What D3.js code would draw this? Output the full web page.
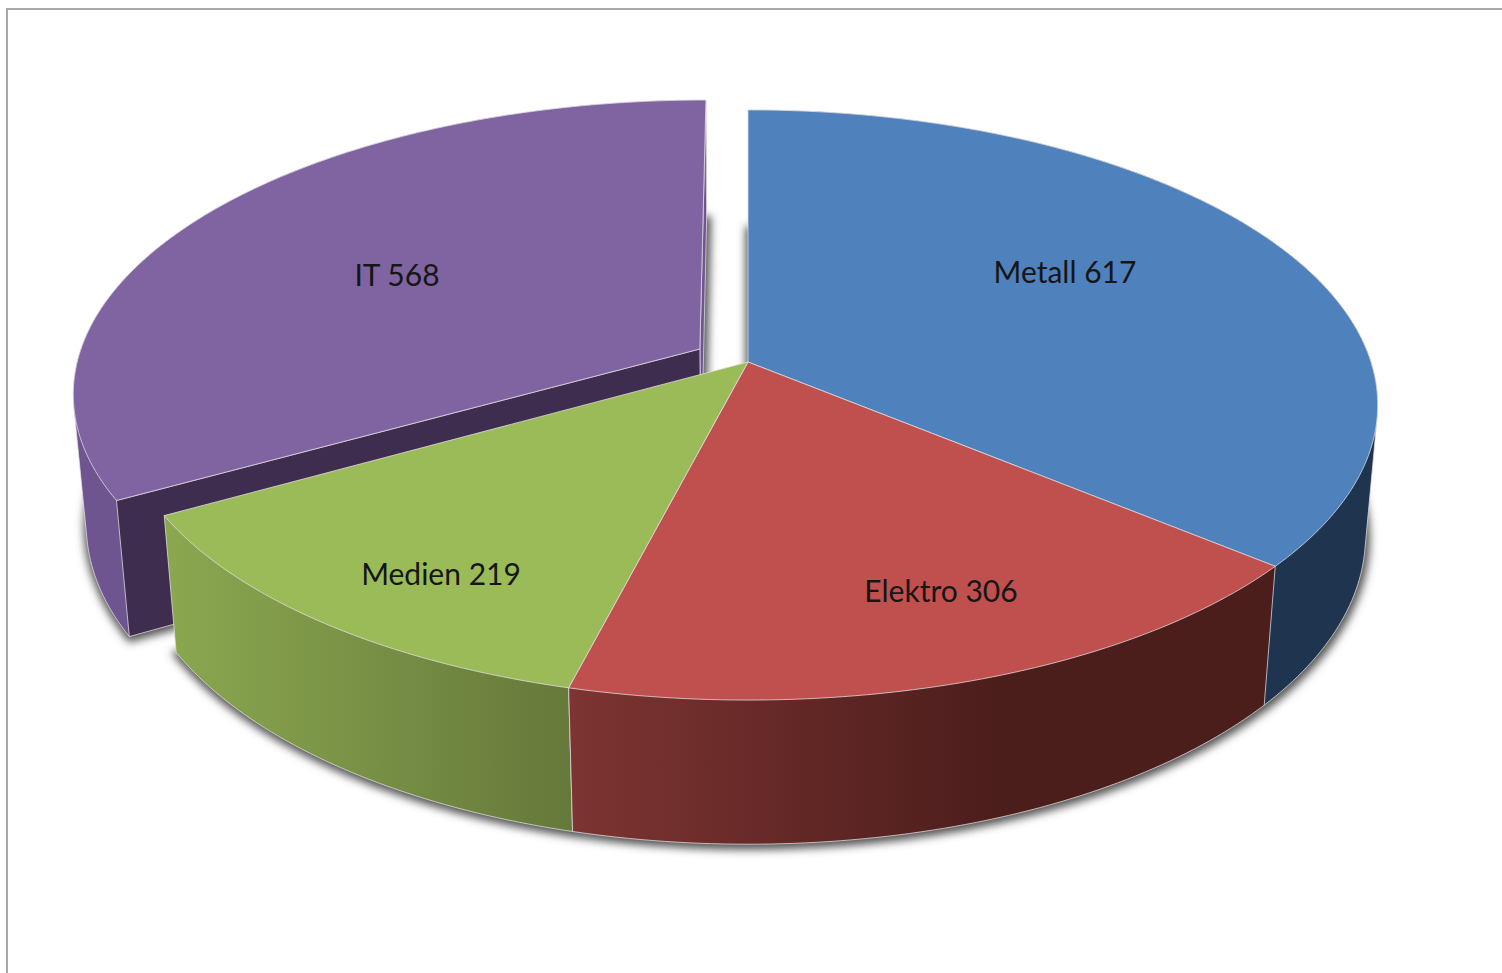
<!DOCTYPE html>
<html>
<head>
<meta charset="utf-8">
<title></title>
<style>
body { margin: 0; background: #fff; }
svg { display: block; }
text { font-family: Lato, "Open Sans", sans-serif; font-size: 30px; fill: #161616; text-anchor: middle; }
.edge { stroke: #e4e0e4; stroke-width: 1; stroke-opacity: 0.75; stroke-linejoin: round; }
</style>
</head>
<body>
<script src="https://cdn.jsdelivr.net/npm/d3@7"></script>
<script>

var categories = ["Metall", "Elektro", "Medien", "IT"];
var values = [617, 306, 219, 568];

var topColors = ["#4f81bd", "#c0504d", "#9bbb59", "#8064a2"];
var sideLeft = ["#1f344e", "#7d3432", "#8ba850", "#6f5590"];
var sideRight = ["#1f344e", "#4b1d1b", "#65793a", "#6f5590"];
var gradEnd = [1, 0.62, 1, 1];

var labelX = [1065, 941, 441, 397];
var labelY = [272, 591, 574, 275];

var width = 1502, height = 973;

// perspective of the tilted disc, fitted on the picture
var cx = 748, cy = 362,
    bx = 623, az = 288.8,
    persp = 0.1457,
    depth = 132.5, depthW = 0.0194,
    explode = [0, 0, 0, 0.09];

function project(x, z, low) {
  var w = 1 - persp * z + (low ? depthW : 0);
  return [cx + bx * x / w, cy + (az * z + (low ? depth : 0)) / w];
}

var slices = d3.pie().sort(null).startAngle(0).endAngle(2 * Math.PI)(values);

slices.forEach(function(d, i) {
  var mid = (d.startAngle + d.endAngle) / 2;
  d.i = i;
  d.ox = explode[i] * Math.sin(mid);
  d.oz = -explode[i] * Math.cos(mid);
  d.point = function(a, r, low) {
    return project(d.ox + r * Math.sin(a), d.oz - r * Math.cos(a), low);
  };
  var n = Math.ceil((d.endAngle - d.startAngle) * 60);
  d.angles = d3.range(n + 1).map(function(k) {
    return d.startAngle + (d.endAngle - d.startAngle) * k / n;
  });
  d.arc = function(low) {
    return d.angles.map(function(a) { return d.point(a, 1, low); });
  };
});

var line = d3.line().curve(d3.curveLinear);
function closed(pts) { return line(pts) + "Z"; }

var svg = d3.select("body").append("svg")
    .attr("width", width)
    .attr("height", height);

var defs = svg.append("defs");

defs.append("filter")
    .attr("id", "soft")
    .attr("x", "-10%").attr("y", "-10%")
    .attr("width", "120%").attr("height", "120%")
  .append("feGaussianBlur")
    .attr("stdDeviation", 4);

slices.forEach(function(d) {
  var pts = d.arc(false);
  var xs = d3.extent(pts, function(p) { return p[0]; });
  var g = defs.append("linearGradient")
      .attr("id", "side" + d.i)
      .attr("gradientUnits", "userSpaceOnUse")
      .attr("x1", xs[0]).attr("x2", xs[1])
      .attr("y1", 0).attr("y2", 0);
  g.append("stop").attr("offset", 0).attr("stop-color", sideLeft[d.i]);
  g.append("stop").attr("offset", gradEnd[d.i]).attr("stop-color", sideRight[d.i]);
});

// chart frame, only top and left are in the shot
svg.append("path")
    .attr("d", "M7," + height + "V9H" + width)
    .attr("fill", "none")
    .attr("stroke", "#a8a8a8")
    .attr("stroke-width", 2);

// shadow is the bottom face of every slice, blurred and a bit fatter
svg.append("g")
    .attr("filter", "url(#soft)")
    .attr("transform", "translate(1,2)")
  .selectAll("path")
  .data(slices)
  .enter().append("path")
    .attr("fill", "#555")
    .attr("stroke", "#555")
    .attr("stroke-width", 7)
    .attr("d", function(d) {
      return closed([d.point(0, 0, true)].concat(d.arc(true)));
    });

// IT is pulled out, so it goes behind the rest
var order = [3, 0, 2, 1];
var bodies = svg.append("g");

order.forEach(function(i) {
  var d = slices[i];
  var g = bodies.append("g");
  // outer wall, hull so the silhouette runs from top rim to bottom rim
  g.append("path")
      .attr("class", "edge")
      .attr("fill", "url(#side" + i + ")")
      .attr("d", closed(d3.polygonHull(d.arc(false).concat(d.arc(true)))));
  // cut faces
  if (explode[i] > 0) {
    g.append("path")
        .attr("class", "edge")
        .attr("fill", "#6f5590")
        .attr("d", closed([d.point(0, 0, false), d.point(d.endAngle, 1, false), d.point(d.endAngle, 1, true), d.point(0, 0, true)]));
    g.append("path")
        .attr("class", "edge")
        .attr("fill", "#3e2d4f")
        .attr("d", closed([d.point(0, 0, false), d.point(d.startAngle, 1, false), d.point(d.startAngle, 1, true), d.point(0, 0, true)]));
  }
});

// top faces last, they hide the back of the walls
svg.append("g").selectAll("path")
  .data(slices)
  .enter().append("path")
    .attr("class", "edge")
    .attr("fill", function(d) { return topColors[d.i]; })
    .attr("d", function(d) {
      return closed([d.point(0, 0, false)].concat(d.arc(false)));
    });

svg.append("g").selectAll("text")
  .data(slices)
  .enter().append("text")
    .attr("x", function(d) { return labelX[d.i]; })
    .attr("y", function(d) { return labelY[d.i] + 11; })
    .text(function(d) { return categories[d.i] + " " + d.value; });

</script>
</body>
</html>
